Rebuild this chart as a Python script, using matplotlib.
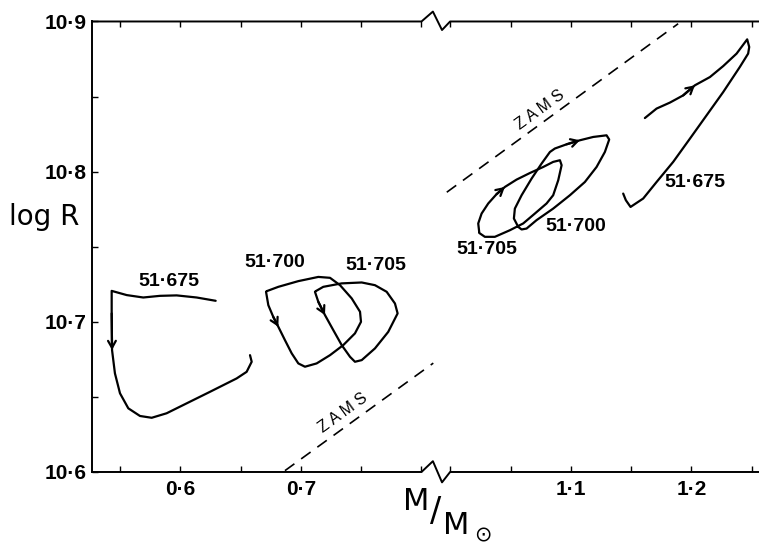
import numpy as np
import matplotlib
matplotlib.use("Agg")
import matplotlib.pyplot as plt

plt.rcParams['font.family'] = ['Liberation Sans', 'DejaVu Sans']

# --- Data ------------------------------------------------------------------
# mass (M/Msun) and log R of each track
low_675_m = [0.6292, 0.6134, 0.5968, 0.5830, 0.5691, 0.5554, 0.5429, 0.5429, 0.5432,
             0.5456, 0.5498, 0.5567, 0.5664, 0.5761, 0.5885, 0.6051, 0.6245, 0.6466,
             0.6549, 0.6591, 0.6577]
low_675_r = [10.714, 10.7162, 10.7176, 10.7173, 10.7162, 10.7178, 10.7206, 10.7056, 10.6812,
             10.6657, 10.6524, 10.6424, 10.6373, 10.6361, 10.6391, 10.6457, 10.6534, 10.6623,
             10.6667, 10.6734, 10.6778]

low_700_m = [0.6710, 0.6729, 0.6770, 0.6812, 0.6867, 0.6923, 0.6978, 0.7033, 0.7130, 0.7241,
             0.7351, 0.7448, 0.7498, 0.7490, 0.7421, 0.7324, 0.7241, 0.7144, 0.6978, 0.6812,
             0.6715]
low_700_r = [10.7200, 10.7111, 10.7033, 10.6967, 10.6878, 10.6790, 10.6723, 10.6701, 10.6723,
             10.6778, 10.6845, 10.6923, 10.7000, 10.7067, 10.7156, 10.7244, 10.7293, 10.7299,
             10.7271, 10.7233, 10.7204]

low_705_m = [0.7116, 0.7144, 0.7199, 0.7268, 0.7338, 0.7407, 0.7448, 0.7504, 0.7614, 0.7724,
             0.7802, 0.7780, 0.7711, 0.7614, 0.7504, 0.7338, 0.7185, 0.7122]
low_705_r = [10.7200, 10.7133, 10.7045, 10.6945, 10.6845, 10.6767, 10.6734, 10.6745, 10.6823,
             10.6933, 10.7056, 10.7122, 10.7200, 10.7244, 10.7262, 10.7256, 10.7233, 10.7204]

high_705_m = [1.0239, 1.0231, 1.0259, 1.0314, 1.0383, 1.0452, 1.0549, 1.0660, 1.0770, 1.0853,
              1.0909, 1.0923, 1.0895, 1.0853, 1.0798, 1.0701, 1.0604, 1.0494, 1.0369, 1.0286,
              1.0239]
high_705_r = [10.7599, 10.7655, 10.7721, 10.7788, 10.7850, 10.7898, 10.7947, 10.7991, 10.8031,
              10.8065, 10.8076, 10.8043, 10.7943, 10.7843, 10.7788, 10.7721, 10.7655, 10.7610,
              10.7566, 10.7566, 10.7592]

high_700_m = [1.0563, 1.0527, 1.0535, 1.0591, 1.0674, 1.0757, 1.0826, 1.0867, 1.0964, 1.1075,
              1.1185, 1.1296, 1.1318, 1.1282, 1.1213, 1.1116, 1.0992, 1.0853, 1.0715, 1.0632,
              1.0591, 1.0563]
high_700_r = [10.7632, 10.7688, 10.7754, 10.7843, 10.7954, 10.8054, 10.8131, 10.8154, 10.8182,
              10.8209, 10.8231, 10.8242, 10.8214, 10.8131, 10.8031, 10.7931, 10.7843, 10.7754,
              10.7677, 10.7621, 10.7615, 10.7632]

high_675_m = [1.1614, 1.1711, 1.1822, 1.1932, 1.2029, 1.2154, 1.2264, 1.2375, 1.2463, 1.2480,
              1.2471, 1.2402, 1.2264, 1.2126, 1.1988, 1.1849, 1.1711, 1.1600, 1.1495, 1.1456,
              1.1434]
high_675_r = [10.8357, 10.8420, 10.8460, 10.8508, 10.8575, 10.8630, 10.8703, 10.8786, 10.8881,
              10.8830, 10.8786, 10.8697, 10.8530, 10.8375, 10.8220, 10.8065, 10.7931, 10.7821,
              10.7765, 10.7810, 10.7854]

zams_low_m = [0.6867, 0.8817]
zams_low_r = [10.6009, 10.6725]
zams_high_m = [0.975, 1.1890]
zams_high_r = [10.7863, 10.8985]

# track label, label position, index of the arrow tip
tracks = [
    (low_675_m, low_675_r, "51·675", (0.5900, 10.7267), 8),
    (low_700_m, low_700_r, "51·700", (0.6784, 10.7394), 3),
    (low_705_m, low_705_r, "51·705", (0.7622, 10.7377), 2),
    (high_705_m, high_705_r, "51·705", (1.0303, 10.7484), 5),
    (high_700_m, high_700_r, "51·700", (1.1041, 10.7637), 9),
    (high_675_m, high_675_r, "51·675", (1.2029, 10.7929), 4),
]

zams_labels = [(0.7349, 10.6393), (1.0743, 10.8409)]

x_major = [0.6, 0.7, 1.1, 1.2]
x_major_labels = ["0·6", "0·7", "1·1", "1·2"]
x_minor = [0.55, 0.65, 0.75, 0.8, 1.0, 1.05, 1.15, 1.25]
y_major = [10.6, 10.7, 10.8, 10.9]
y_major_labels = ["10·6", "10·7", "10·8", "10·9"]
y_minor = [10.65, 10.75, 10.85]

# broken mass axis: 0.8 .. 1.0 squeezed into a small gap
BREAK_LO, BREAK_HI, GAP = 0.8, 1.0, 0.024
_m_pts = [0.0, BREAK_LO, BREAK_HI, 2.0]
_s_pts = [0.0, BREAK_LO, BREAK_LO + GAP, 2.0 - (BREAK_HI - BREAK_LO) + GAP]


def fwd(m):
    return np.interp(m, _m_pts, _s_pts)


def inv(s):
    return np.interp(s, _s_pts, _m_pts)


def build_plot(save_path):
    fig = plt.figure(figsize=(7.6, 5.48), dpi=100)
    ax = fig.add_axes([0.1211, 0.1387, 0.8763, 0.8221])
    ax.set_xscale('function', functions=(fwd, inv))
    ax.set_xlim(0.5266, 1.2553)
    ax.set_ylim(10.6, 10.9)

    # tracks with arrows
    for m, r, label, (lx, ly), k in tracks:
        ax.plot(m, r, color="black", lw=1.6, solid_capstyle="round", solid_joinstyle="round")
        ax.annotate("", xy=(m[k], r[k]), xytext=(m[k - 1], r[k - 1]),
                    arrowprops=dict(arrowstyle="->,head_length=0.5,head_width=0.28",
                                    color="black", lw=1.6, shrinkA=0, shrinkB=0))
        ax.text(lx, ly, label, ha="center", va="center", fontsize=14, weight="bold")

    # ZAMS lines
    for m, r in [(zams_low_m, zams_low_r), (zams_high_m, zams_high_r)]:
        ax.plot(m, r, color="black", lw=1.2, linestyle=(0, (7.0, 5.0)))
    for x, y in zams_labels:
        ax.text(x, y, "Z A M S", ha="center", va="center", fontsize=11.5,
                rotation=36, rotation_mode="anchor")

    # axes: left spine only, top/bottom drawn by hand with break zigzag
    for s in ["top", "bottom", "right"]:
        ax.spines[s].set_visible(False)
    ax.spines["left"].set_linewidth(1.4)
    x0, x1 = ax.get_xlim()
    zx = [x0, BREAK_LO, 0.879, 0.942, 0.998, x1]
    trans = ax.get_xaxis_transform()
    ax.plot(zx, [1, 1, 1.022, 0.981, 1, 1], color="black", lw=1.4, transform=trans, clip_on=False)
    ax.plot(zx, [0, 0, 0.024, -0.023, 0, 0], color="black", lw=1.4, transform=trans, clip_on=False)

    ax.set_xticks(x_major, x_major_labels)
    ax.set_xticks(x_minor, minor=True)
    ax.set_yticks(y_major, y_major_labels)
    ax.set_yticks(y_minor, minor=True)
    ax.tick_params(which="both", direction="in", length=4.5, width=1.0, top=True, right=False,
                   labelsize=15)
    ax.tick_params(axis="x", pad=6)
    ax.tick_params(axis="y", pad=4)
    for lbl in ax.get_xticklabels() + ax.get_yticklabels():
        lbl.set_fontweight("bold")

    # axis labels
    fig.text(44 / 760, 1 - 217 / 548, "log R", ha="center", va="center",
             fontsize=20, family="DejaVu Sans")
    fig.text(416 / 760, 1 - 502 / 548, "M", ha="center", va="center", fontsize=22,
             family="DejaVu Sans")
    fig.text(436 / 760, 1 - 512 / 548, "/", ha="center", va="center", fontsize=24,
             family="DejaVu Sans")
    fig.text(456 / 760, 1 - 526 / 548, "M", ha="center", va="center", fontsize=22,
             family="DejaVu Sans")
    fig.text(483 / 760, 1 - 535 / 548, "⊙", ha="center", va="center", fontsize=15,
             family="DejaVu Sans")

    fig.savefig(save_path, dpi=100)


if __name__ == "__main__":
    build_plot("out.png")
